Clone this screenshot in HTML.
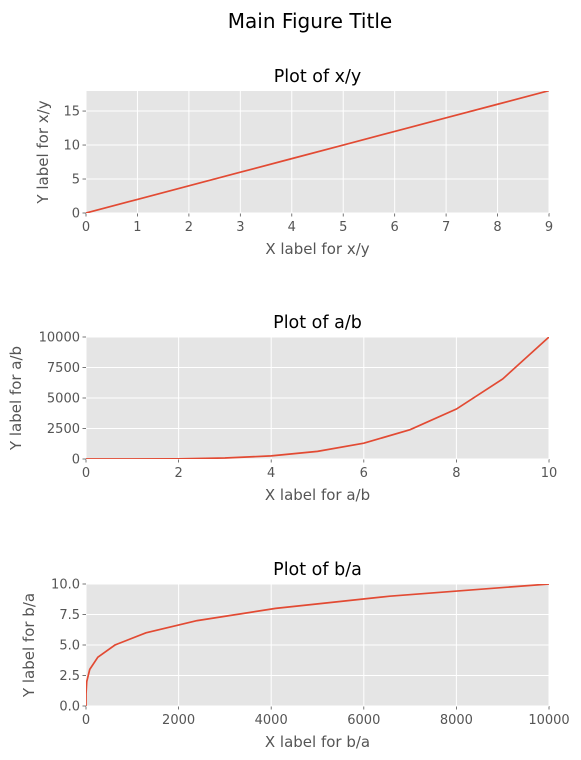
<!DOCTYPE html>
<html><head><meta charset="utf-8"><style>
html,body{margin:0;padding:0;background:#fff;}
svg{display:block;font-family:"DejaVu Sans","Liberation Sans",sans-serif;}
</style></head><body>
<svg id="fig" width="581" height="760">
<text x="310" y="28" font-size="20" text-anchor="middle" fill="#000">Main Figure Title</text>
</svg>
<script>
const xyX=[0,1,2,3,4,5,6,7,8,9];
const xyY=[0,2,4,6,8,10,12,14,16,18];
const abX=[0,1,2,3,4,5,6,7,8,9,10];
const abY=[0,1,16,81,256,625,1296,2401,4096,6561,10000];
const baX=[0,1,16,81,256,625,1296,2401,4096,6561,10000];
const baY=[0,1,2,3,4,5,6,7,8,9,10];
const xyXTicks=[0,1,2,3,4,5,6,7,8,9];
const xyYTicks=[0,5,10,15];
const abXTicks=[0,2,4,6,8,10];
const abYTicks=[0,2500,5000,7500,10000];
const baXTicks=[0,2000,4000,6000,8000,10000];
const baYTicks=[0,2.5,5,7.5,10];
const NS='http://www.w3.org/2000/svg';
const svg=document.getElementById('fig');
function el(t,a,p){const e=document.createElementNS(NS,t);for(const k in a)e.setAttribute(k,a[k]);(p||svg).appendChild(e);return e;}
function plot(cfg){
  const L=86,R=549,T=cfg.top,B=cfg.top+122;
  const fmt=v=>cfg.dec?v.toFixed(cfg.dec):String(v);
  const g=el('g',{});
  
  
  const sx=v=>L+(v-cfg.xmin)/(cfg.xmax-cfg.xmin)*(R-L);
  const sy=v=>B-(v-cfg.ymin)/(cfg.ymax-cfg.ymin)*(B-T);
  const bg=el('rect',{x:L,y:T,width:R-L,height:B-T,fill:'#e5e5e5'},g);
  
  
  cfg.xt.forEach(v=>{const x=sx(v);
    el('line',{x1:x,x2:x,y1:T,y2:B,stroke:'#fff','stroke-width':1},g);
    el('line',{x1:x,x2:x,y1:B,y2:B+3.5,stroke:'#555','stroke-width':0.8},g);
    const t=el('text',{x:x,y:B+18,'font-size':13,'text-anchor':'middle',fill:'#555'},g);t.textContent=String(v);
    
    });
  cfg.yt.forEach(v=>{const y=sy(v);
    el('line',{x1:L,x2:R,y1:y,y2:y,stroke:'#fff','stroke-width':1},g);
    el('line',{x1:L-3.5,x2:L,y1:y,y2:y,stroke:'#555','stroke-width':0.8},g);
    const t=el('text',{x:L-6,y:y+4.5,'font-size':13,'text-anchor':'end',fill:'#555'},g);t.textContent=fmt(v);
    
    });
  const pts=cfg.x.map((v,i)=>sx(v).toFixed(2)+','+sy(cfg.y[i]).toFixed(2)).join(' ');
  const cp=el('clipPath',{id:'c'+cfg.top},g);el('rect',{x:L,y:T,width:R-L,height:B-T},cp);
  const pl=el('polyline',{points:pts,fill:'none',stroke:'#e24a33','stroke-width':1.7,'clip-path':'url(#c'+cfg.top+')'},g);
  
  
  const ti=el('text',{x:(L+R)/2,y:T-9,'font-size':17.5,'text-anchor':'middle',fill:'#000'},g);ti.textContent=cfg.title;
  
  
  const xl=el('text',{x:(L+R)/2,y:B+41,'font-size':15,'text-anchor':'middle',fill:'#555'},g);xl.textContent=cfg.xlabel;
  
  
  const yx=cfg.ylx,yy=(T+B)/2;
  const yl=el('text',{x:yx,y:yy,'font-size':15,'text-anchor':'middle',fill:'#555',transform:'rotate(-90 '+yx+' '+yy+')'},g);yl.textContent=cfg.ylabel;
  
  
}
plot({name:'plot-xy',top:91,x:xyX,y:xyY,xmin:0,xmax:9,ymin:0,ymax:17.95,xt:xyXTicks,yt:xyYTicks,title:'Plot of x/y',xlabel:'X label for x/y',ylabel:'Y label for x/y',ylx:48,dec:0});
plot({name:'plot-ab',top:337,x:abX,y:abY,xmin:0,xmax:10,ymin:0,ymax:10000,xt:abXTicks,yt:abYTicks,title:'Plot of a/b',xlabel:'X label for a/b',ylabel:'Y label for a/b',ylx:21,dec:0});
plot({name:'plot-ba',top:584,x:baX,y:baY,xmin:0,xmax:10000,ymin:0,ymax:10,xt:baXTicks,yt:baYTicks,title:'Plot of b/a',xlabel:'X label for b/a',ylabel:'Y label for b/a',ylx:34,dec:1});
</script>
</body></html>
